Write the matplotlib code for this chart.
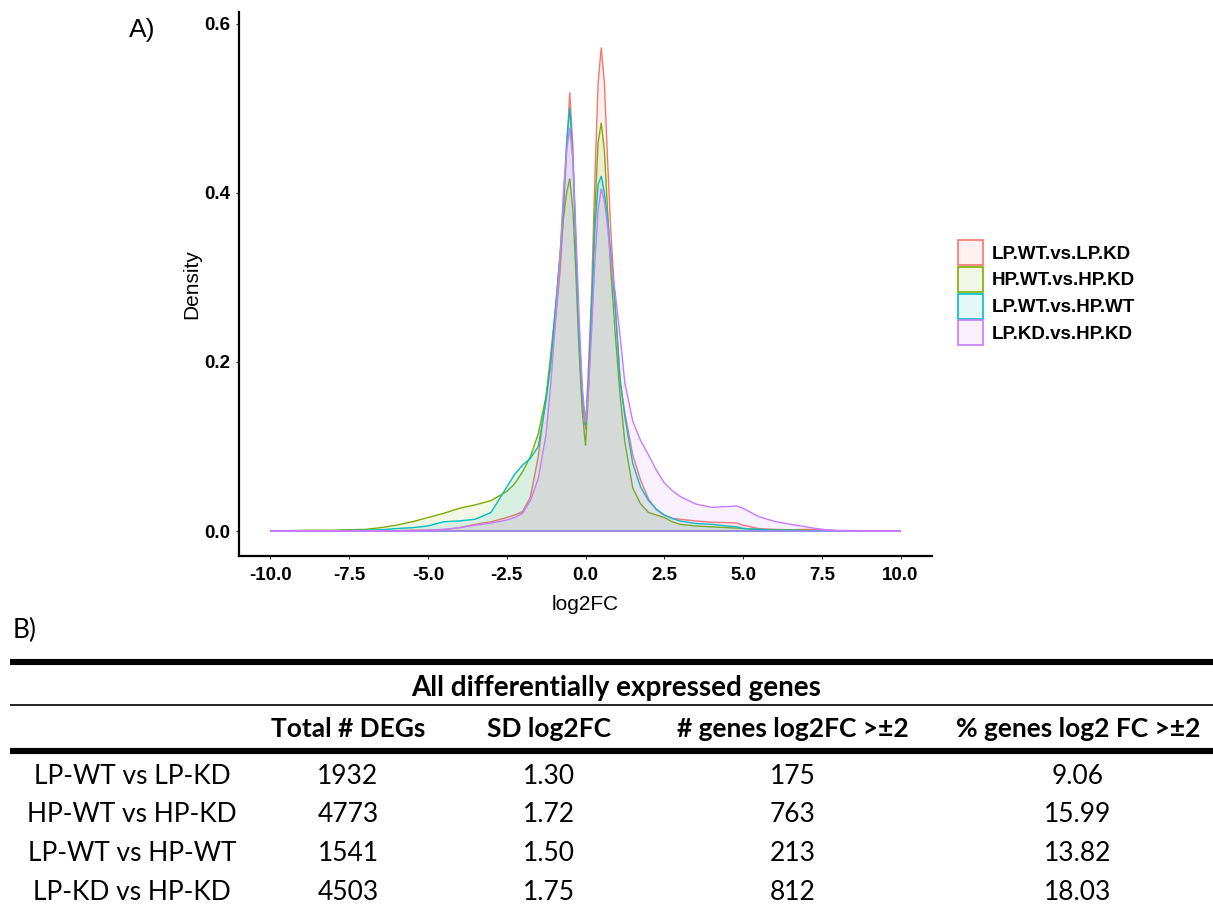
import matplotlib
matplotlib.use("Agg")
import matplotlib.pyplot as plt
from matplotlib.colors import to_rgba
from matplotlib.patches import Patch

# ---- density curves ----
x_grid = [-10, -8.8, -8, -7, -6.5, -6, -5.5, -5, -4.5, -4, -3.5, -3, -2.5, -2.25, -2,
          -1.75, -1.5, -1.25, -1.1, -0.95, -0.8, -0.7, -0.6, -0.5, -0.4, -0.3, -0.2, -0.1, 0,
          0.1, 0.2, 0.3, 0.4, 0.5, 0.6, 0.7, 0.8, 0.95, 1.1, 1.25, 1.5, 1.75, 2, 2.25, 2.5,
          2.75, 3, 3.5, 4, 4.5, 4.8, 5, 5.5, 6, 6.5, 7, 7.5, 8, 8.6, 10]

lp_wt_vs_lp_kd = [0, 0, 0, 0, 0.0003, 0.0005, 0.001, 0.0012, 0.0018, 0.004, 0.008, 0.011, 0.016, 0.019, 0.023,
                  0.04, 0.088, 0.16, 0.2, 0.25, 0.31, 0.375, 0.45, 0.519, 0.455, 0.33, 0.22, 0.15, 0.12,
                  0.2, 0.29, 0.42, 0.53, 0.572, 0.53, 0.44, 0.357, 0.266, 0.175, 0.14, 0.09, 0.06, 0.038, 0.025, 0.019,
                  0.015, 0.014, 0.012, 0.0105, 0.01, 0.0095, 0.007, 0.003, 0.002, 0.0015, 0.002, 0.002, 0, 0, 0]

hp_wt_vs_hp_kd = [0, 0.001, 0.001, 0.002, 0.004, 0.007, 0.011, 0.016, 0.021, 0.027, 0.031, 0.036, 0.047, 0.056, 0.07,
                  0.088, 0.115, 0.16, 0.21, 0.265, 0.33, 0.37, 0.40, 0.417, 0.38, 0.30, 0.21, 0.14, 0.101,
                  0.17, 0.27, 0.38, 0.46, 0.483, 0.45, 0.38, 0.31, 0.23, 0.16, 0.105, 0.051, 0.032, 0.022, 0.019, 0.016,
                  0.011, 0.008, 0.006, 0.005, 0.004, 0.0035, 0.003, 0.002, 0.001, 0.0015, 0.001, 0, 0, 0, 0]

lp_wt_vs_hp_wt = [0, 0, 0.0005, 0.001, 0.0015, 0.003, 0.004, 0.006, 0.011, 0.012, 0.014, 0.022, 0.052, 0.067, 0.078,
                  0.086, 0.1, 0.155, 0.2, 0.265, 0.33, 0.39, 0.46, 0.501, 0.44, 0.33, 0.23, 0.16, 0.125,
                  0.18, 0.27, 0.36, 0.41, 0.42, 0.40, 0.37, 0.33, 0.26, 0.18, 0.135, 0.08, 0.052, 0.036, 0.026, 0.019,
                  0.015, 0.012, 0.009, 0.008, 0.006, 0.005, 0.003, 0.002, 0.001, 0.001, 0.0005, 0, 0, 0, 0]

lp_kd_vs_hp_kd = [0, 0, 0, 0, 0, 0.0003, 0.0005, 0.001, 0.002, 0.004, 0.007, 0.0095, 0.013, 0.016, 0.021,
                  0.036, 0.062, 0.115, 0.175, 0.25, 0.33, 0.40, 0.45, 0.477, 0.44, 0.35, 0.25, 0.17, 0.128,
                  0.17, 0.24, 0.32, 0.38, 0.405, 0.39, 0.36, 0.32, 0.28, 0.23, 0.175, 0.13, 0.107, 0.09, 0.072, 0.057,
                  0.048, 0.041, 0.032, 0.028, 0.029, 0.0296, 0.027, 0.017, 0.0115, 0.008, 0.005, 0.002, 0.0008, 0.0005, 0]

series_names = ["LP.WT.vs.LP.KD", "HP.WT.vs.HP.KD", "LP.WT.vs.HP.WT", "LP.KD.vs.HP.KD"]
series_colors = ["#F8766D", "#7CAE00", "#00BFC4", "#C77CFF"]
densities = [lp_wt_vs_lp_kd, hp_wt_vs_hp_kd, lp_wt_vs_hp_wt, lp_kd_vs_hp_kd]

x_ticks = [-10, -7.5, -5, -2.5, 0, 2.5, 5, 7.5, 10]
x_tick_labels = ["-10.0", "-7.5", "-5.0", "-2.5", "0.0", "2.5", "5.0", "7.5", "10.0"]
y_ticks = [0, 0.2, 0.4, 0.6]
y_tick_labels = ["0.0", "0.2", "0.4", "0.6"]

# ---- table (panel B) ----
table_title = "All differentially expressed genes"
col_headers = ["Total # DEGs", "SD log2FC", "# genes log2FC >±2", "% genes log2 FC >±2"]
row_labels = ["LP-WT vs LP-KD", "HP-WT vs HP-KD", "LP-WT vs HP-WT", "LP-KD vs HP-KD"]
total_degs = ["1932", "4773", "1541", "4503"]
sd_log2fc = ["1.30", "1.72", "1.50", "1.75"]
n_genes_gt2 = ["175", "763", "213", "812"]
pct_genes_gt2 = ["9.06", "15.99", "13.82", "18.03"]

W, H = 1213, 910
plot_font = "Liberation Sans"
table_font = "Lato"

fig = plt.figure(figsize=(W / 100, H / 100), dpi=100)

# --- Panel A: density plot ---
ax = fig.add_axes([239 / W, 1 - 556 / H, (932 - 239) / W, (556 - 12) / H])
for name, color, dens in zip(series_names, series_colors, densities):
    ax.fill(x_grid, dens, facecolor=to_rgba(color, 0.1), edgecolor=color, linewidth=1.0)

ax.set_xlim(-11, 11)
ax.set_ylim(-0.0295, 0.614)
for side in ["top", "right"]:
    ax.spines[side].set_visible(False)
for side in ["left", "bottom"]:
    ax.spines[side].set_linewidth(1.6)

ax.set_xticks(x_ticks)
ax.set_xticklabels(x_tick_labels, fontsize=13.5, fontweight="bold", family=plot_font)
ax.set_yticks(y_ticks)
ax.set_yticklabels(y_tick_labels, fontsize=13.5, fontweight="bold", family=plot_font)
ax.tick_params(length=2.5, width=0.8, color="#333333", pad=3.5)
ax.tick_params(axis="x", pad=5.5)

ax.set_xlabel("log2FC", fontsize=15, family=plot_font)
ax.xaxis.label.set_va("center")
ax.xaxis.set_label_coords(0.5, (556 - 604) / 544)
ax.set_ylabel("Density", fontsize=15, family=plot_font)
ax.yaxis.label.set_va("center")
ax.yaxis.set_label_coords((192 - 239) / 693, 0.5)

# legend keys ~25 px square, rows ~27 px apart
handles = [Patch(facecolor=to_rgba(c, 0.1), edgecolor=c, linewidth=1.2) for c in series_colors]
fig.legend(handles, series_names, loc="upper left", bbox_to_anchor=(958 / W, 1 - 240 / H),
           frameon=False, borderpad=0, borderaxespad=0, handlelength=1.35, handleheight=1.67,
           labelspacing=0.1, handletextpad=0.45,
           prop={"family": plot_font, "weight": "bold", "size": 13.5})

fig.text(142 / W, 1 - 30 / H, "A)", fontsize=19, family=plot_font, ha="center", va="center")

# --- Panel B: table ---
tab = fig.add_axes([0, 0, 1, 1], zorder=-1)
tab.set_xlim(0, W)
tab.set_ylim(H, 0)
tab.axis("off")

fig.text(25 / W, 1 - 630 / H, "B)", fontsize=19, family=table_font, ha="center", va="center")

tab.hlines([662, 751], 10, W, color="black", linewidth=4.4)
tab.hlines([705], 10, W, color="black", linewidth=1.2)

tab.text(616, 688, table_title, fontsize=20, fontweight="bold", family=table_font,
         ha="center", va="center")

col_x = [348, 549, 793, 1078]
for cx, head in zip(col_x, col_headers):
    tab.text(cx, 729, head, fontsize=19, fontweight="bold", family=table_font, ha="center", va="center")

columns = [total_degs, sd_log2fc, n_genes_gt2, pct_genes_gt2]
row_y0, row_step = 776, 38.7
for i, label in enumerate(row_labels):
    ry = row_y0 + i * row_step
    tab.text(132, ry, label, fontsize=19, family=table_font, ha="center", va="center")
    for cx, col in zip(col_x, columns):
        tab.text(cx, ry, col[i], fontsize=19, family=table_font, ha="center", va="center")

fig.savefig("out.png", dpi=100)
